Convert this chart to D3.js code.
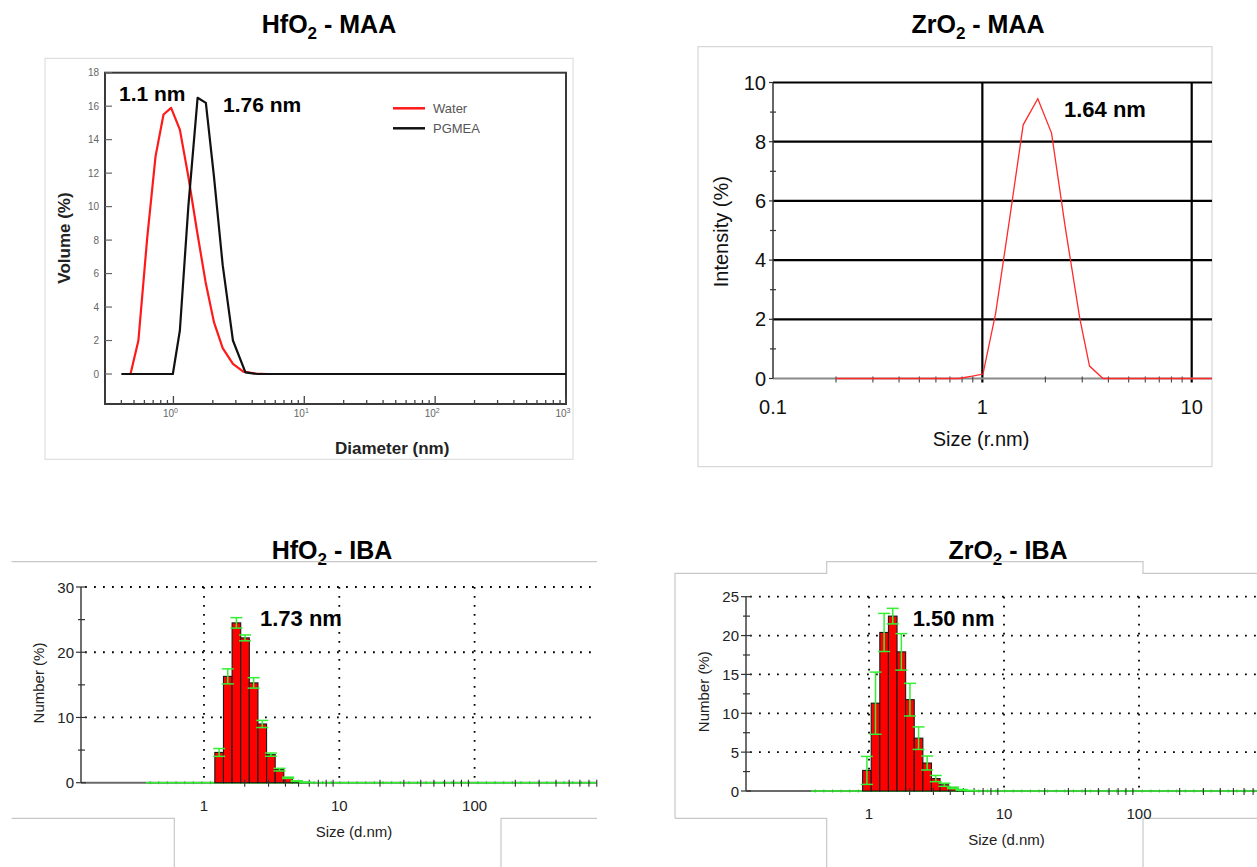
<!DOCTYPE html>
<html>
<head>
<meta charset="utf-8">
<script src="https://cdn.jsdelivr.net/npm/d3@7"></script>
<style>
  body { margin: 0; background: #fff; }
  svg { display: block; font-family: "Liberation Sans", Arial, Helvetica, sans-serif; }
</style>
</head>
<body>
<svg id="chart" width="1257" height="867"></svg>
<script>
// HfO2 - MAA : volume distribution (diameter, nm)
const maaWaterSize = [0.47, 0.54, 0.63, 0.73, 0.84, 0.96, 1.12, 1.30, 1.51, 1.76, 2.04, 2.38, 2.85, 3.42, 4.23, 5.23, 1000];
const maaWaterVol  = [0, 2.0, 8.1, 13.0, 15.5, 15.9, 14.6, 11.8, 8.6, 5.5, 3.1, 1.55, 0.6, 0.14, 0.03, 0, 0];
const maaPgmeaSize = [0.40, 0.99, 1.12, 1.30, 1.53, 1.77, 2.04, 2.38, 2.85, 3.55, 4.4, 1000];
const maaPgmeaVol  = [0, 0, 2.6, 10.0, 16.5, 16.2, 11.8, 6.5, 2.0, 0.1, 0, 0];

// ZrO2 - MAA : intensity distribution (radius, nm)
const zrMaaSize = [0.2, 0.77, 0.896, 1.007, 1.157, 1.35, 1.567, 1.84, 2.14, 2.49, 2.92, 3.25, 3.77, 12.5];
const zrMaaInt  = [0, 0, 0.08, 0.15, 2.2, 5.4, 8.57, 9.45, 8.29, 5.1, 2.03, 0.42, 0, 0];

// size classes of the number distributions (d.nm)
const sizeClasses = [0.4000, 0.4632, 0.5365, 0.6213, 0.7195, 0.8332, 0.9649, 1.117, 1.294, 1.499, 1.736, 2.010,
  2.328, 2.696, 3.122, 3.615, 4.187, 4.849, 5.615, 6.503, 7.531, 8.721, 10.10, 11.70, 13.54, 15.69, 18.17, 21.04,
  24.36, 28.21, 32.67, 37.84, 43.82, 50.75, 58.77, 68.06, 78.82, 91.28, 105.7, 122.4, 141.8, 164.2, 190.1, 220.2,
  255.0, 295.3, 342.0, 396.1, 458.7, 531.2, 615.1, 712.4, 825.0, 955.4];

// HfO2 - IBA : number distribution
const hfIbaSize = [1.294, 1.499, 1.736, 2.010, 2.328, 2.696, 3.122, 3.615, 4.187, 4.849, 5.615];
const hfIbaNum  = [4.64, 16.3, 24.5, 22.2, 15.3, 9.0, 4.3, 2.0, 0.75, 0.25, 0.05];
const hfIbaErr  = [0.6, 1.15, 0.8, 0.45, 0.8, 0.55, 0.25, 0.2, 0.1, 0.05, 0.02];

// ZrO2 - IBA : number distribution
const zrIbaSize = [0.9649, 1.117, 1.294, 1.499, 1.736, 2.010, 2.328, 2.696, 3.122, 3.615, 4.187, 4.849, 5.615];
const zrIbaNum  = [2.65, 11.3, 20.4, 22.5, 17.9, 11.75, 6.8, 3.6, 1.6, 0.8, 0.4, 0.15, 0.05];
const zrIbaErr  = [1.8, 4.0, 2.45, 1.0, 2.35, 2.1, 1.45, 0.9, 0.4, 0.2, 0.1, 0.05, 0.02];

const svg = d3.select('#chart');
const zip = (a, b) => a.map((v, i) => [v, b[i]]);
const isDecade = v => Math.abs(Math.log10(v) - Math.round(Math.log10(v))) < 1e-6;

function title(x, y, base, rest) {
  const t = svg.append('text').attr('x', x).attr('y', y).attr('text-anchor', 'middle')
    .attr('font-size', 25).attr('font-weight', 'bold').attr('fill', '#000');
  t.append('tspan').text(base);
  t.append('tspan').attr('font-size', 17).attr('dy', 6).text('2');
  t.append('tspan').attr('dy', -6).text(rest);
}

function label(x, y, text, opts = {}) {
  const t = svg.append('text').attr('x', x).attr('y', y).text(text)
    .attr('font-size', opts.size || 15).attr('fill', opts.fill || '#222')
    .attr('font-weight', opts.bold ? 'bold' : null)
    .attr('text-anchor', opts.anchor || 'start')
    .attr('dominant-baseline', opts.baseline || null);
  if (opts.rotate) t.attr('transform', `rotate(-90,${x},${y})`);
  return t;
}

title(329, 33, 'HfO', ' - MAA');
title(978, 33, 'ZrO', ' - MAA');
title(332, 559, 'HfO', ' - IBA');
title(1008, 559, 'ZrO', ' - IBA');

// ---------- panel 1 : HfO2 - MAA ----------
{
  const x = d3.scaleLog().domain([0.30, 1000]).range([105, 566]);
  const y = d3.scaleLinear().domain([0, 18]).range([374, 72.7]);
  const bottom = 404;
  const g = svg.append('g');
  g.append('rect').attr('x', 45).attr('y', 58.3).attr('width', 528).attr('height', 401)
    .attr('fill', 'none').attr('stroke', '#d9d9d9');
  g.append('rect').attr('x', 105).attr('y', y(18)).attr('width', 461).attr('height', bottom - y(18))
    .attr('fill', 'none').attr('stroke', '#3a3a3a').attr('stroke-width', 2);

  d3.range(0, 19, 2).forEach(v => {
    g.append('line').attr('x1', 105).attr('x2', 112).attr('y1', y(v)).attr('y2', y(v))
      .attr('stroke', '#666').attr('stroke-width', 1.2);
    label(99, y(v), v, { size: 10, fill: '#666', anchor: 'end', baseline: 'central' });
  });
  x.ticks().filter(v => v >= 0.39 && v <= 1000).forEach(v => {
    const len = isDecade(v) ? 8 : 4;
    g.append('line').attr('x1', x(v)).attr('x2', x(v)).attr('y1', bottom).attr('y2', bottom - len)
      .attr('stroke', '#444').attr('stroke-width', 1.3);
  });
  [1, 10, 100, 1000].forEach((v, i) => {
    const t = label(x(v) - 3, 417, '10', { size: 10, fill: '#666', anchor: 'middle' });
    t.append('tspan').attr('font-size', 7).attr('dy', -4).text(i);
  });
  label(335, 454, 'Diameter (nm)', { size: 17, bold: true });
  label(64, 238, 'Volume (%)', { size: 17, bold: true, anchor: 'middle', baseline: 'central', rotate: true });

  const line = d3.line().x(d => x(d[0])).y(d => y(d[1]));
  g.append('path').attr('d', line(zip(maaWaterSize, maaWaterVol)))
    .attr('fill', 'none').attr('stroke', '#ff1a1a').attr('stroke-width', 2.2).attr('stroke-linejoin', 'round');
  g.append('path').attr('d', line(zip(maaPgmeaSize, maaPgmeaVol)))
    .attr('fill', 'none').attr('stroke', '#111').attr('stroke-width', 2.2).attr('stroke-linejoin', 'round');

  g.append('line').attr('x1', 393).attr('x2', 425).attr('y1', 108.3).attr('y2', 108.3)
    .attr('stroke', '#ff1a1a').attr('stroke-width', 2.5);
  g.append('line').attr('x1', 393).attr('x2', 425).attr('y1', 128.3).attr('y2', 128.3)
    .attr('stroke', '#111').attr('stroke-width', 2.5);
  label(433, 108.3, 'Water', { size: 13, fill: '#555', baseline: 'central' });
  label(433, 128.3, 'PGMEA', { size: 13, fill: '#555', baseline: 'central' });

  label(119, 100.7, '1.1 nm', { size: 21, bold: true, fill: '#000' });
  label(223, 111.7, '1.76 nm', { size: 21, bold: true, fill: '#000' });
}

// ---------- panel 2 : ZrO2 - MAA ----------
{
  const x = d3.scaleLog().domain([0.1, 12.5]).range([773, 1212]);
  const y = d3.scaleLinear().domain([0, 10]).range([378.5, 82.5]);
  const g = svg.append('g');
  g.append('rect').attr('x', 698).attr('y', 46.7).attr('width', 514).attr('height', 420)
    .attr('fill', 'none').attr('stroke', '#cfcfcf');

  d3.range(2, 11, 2).forEach(v => {
    g.append('line').attr('x1', 773).attr('x2', 1212).attr('y1', y(v)).attr('y2', y(v))
      .attr('stroke', '#000').attr('stroke-width', 2.2);
  });
  [1, 10].forEach(v => {
    g.append('line').attr('x1', x(v)).attr('x2', x(v)).attr('y1', y(10)).attr('y2', y(0) + 4)
      .attr('stroke', '#000').attr('stroke-width', 2.2);
  });
  g.append('line').attr('x1', 773).attr('x2', 1212).attr('y1', y(0)).attr('y2', y(0))
    .attr('stroke', '#8a8a8a').attr('stroke-width', 2);
  g.append('line').attr('x1', 773).attr('x2', 773).attr('y1', y(10)).attr('y2', y(0))
    .attr('stroke', '#333').attr('stroke-width', 1.5);
  d3.range(0, 11, 1).forEach(v => {
    const major = v % 2 === 0;
    g.append('line').attr('x1', major ? 769 : 770).attr('x2', major ? 773 : 776).attr('y1', y(v)).attr('y2', y(v))
      .attr('stroke', '#333').attr('stroke-width', 1.2);
    if (major) label(766, y(v), v, { size: 20, fill: '#111', anchor: 'end', baseline: 'central' });
  });
  x.ticks().filter(v => !isDecade(v) && v <= 12.5).forEach(v => {
    g.append('line').attr('x1', x(v)).attr('x2', x(v)).attr('y1', y(0) - 2).attr('y2', y(0) + 4)
      .attr('stroke', '#444').attr('stroke-width', 1.1);
  });
  [[0.1, '0.1'], [1, '1'], [10, '10']].forEach(([v, s]) => {
    label(x(v), 413.5, s, { size: 20, fill: '#111', anchor: 'middle' });
  });
  label(981, 446, 'Size (r.nm)', { size: 20, fill: '#111', anchor: 'middle' });
  label(720.7, 231.7, 'Intensity (%)', { size: 20, fill: '#111', anchor: 'middle', baseline: 'central', rotate: true });

  const line = d3.line().x(d => x(d[0])).y(d => y(d[1]));
  g.append('path').attr('d', line(zip(zrMaaSize, zrMaaInt)))
    .attr('fill', 'none').attr('stroke', '#ff2a2a').attr('stroke-width', 1.3);
  label(1064, 116.7, '1.64 nm', { size: 22, bold: true, fill: '#000' });
}

// ---------- panels 3 and 4 : number distributions ----------
function numberPanel(cfg) {
  const { x, y, yMax, yStep, sizes, vals, errs } = cfg;
  const g = svg.append('g');
  g.append('path').attr('d', cfg.frame).attr('fill', 'none').attr('stroke', '#c8c8c8').attr('stroke-width', 1.2);

  const [x0, x1] = x.range();
  const y0 = y(0);
  const dots = { stroke: '#000', 'stroke-width': 1.8, 'stroke-dasharray': '1.8,7.2' };
  d3.range(yStep * 2, yMax + 0.1, yStep * 2).forEach(v => {
    const l = g.append('line').attr('x1', x0 + 4).attr('x2', x1).attr('y1', y(v)).attr('y2', y(v));
    Object.entries(dots).forEach(([k, val]) => l.attr(k, val));
  });
  [1, 10, 100].forEach(v => {
    const l = g.append('line').attr('x1', x(v)).attr('x2', x(v)).attr('y1', y(yMax)).attr('y2', y0 - 3);
    Object.entries(dots).forEach(([k, val]) => l.attr(k, val));
  });

  // bottom axis, then the green zero line from the first size class
  g.append('line').attr('x1', x0).attr('x2', x1).attr('y1', y0).attr('y2', y0)
    .attr('stroke', '#6a6a6a').attr('stroke-width', 2);
  const edge = i => Math.sqrt(sizeClasses[i] * (sizeClasses[i + 1] || sizeClasses[i] * 1.158));
  const startEdge = sizeClasses[0] / Math.sqrt(sizeClasses[1] / sizeClasses[0]);
  g.append('line').attr('x1', x(startEdge)).attr('x2', x1).attr('y1', y0).attr('y2', y0)
    .attr('stroke', '#33f033').attr('stroke-width', 1.6);
  sizeClasses.filter(s => x(s) < x1 && !sizes.includes(s)).forEach(s => {
    g.append('line').attr('x1', x(s)).attr('x2', x(s)).attr('y1', y0 - 1.5).attr('y2', y0 + 1.5)
      .attr('stroke', '#22cc22').attr('stroke-width', 1);
  });

  // bars
  const bars = sizes.map((s, i) => {
    const k = sizeClasses.indexOf(s);
    return { lo: k > 0 ? edge(k - 1) : startEdge, hi: edge(k), v: vals[i], e: errs[i], s };
  });
  g.selectAll('rect.bar').data(bars).join('rect').attr('class', 'bar')
    .attr('x', d => x(d.lo)).attr('width', d => x(d.hi) - x(d.lo))
    .attr('y', d => y(d.v)).attr('height', d => y0 - y(d.v))
    .attr('fill', '#ff0000').attr('stroke', '#1a1a1a').attr('stroke-width', 1.1);

  // minor ticks along the size axis
  x.ticks().filter(v => v >= 2 && v <= x.domain()[1] && !isDecade(v)).forEach(v => {
    g.append('line').attr('x1', x(v)).attr('x2', x(v)).attr('y1', y0 - 3).attr('y2', y0 + 4)
      .attr('stroke', '#333').attr('stroke-width', 1.1);
  });

  // error bars
  const eb = g.selectAll('g.err').data(bars).join('g').attr('class', 'err')
    .attr('stroke', '#33f033').attr('stroke-width', 1.5);
  eb.append('line').attr('x1', d => x(d.s)).attr('x2', d => x(d.s))
    .attr('y1', d => y(d.v + d.e)).attr('y2', d => y(Math.max(0, d.v - d.e)));
  eb.append('line').attr('x1', d => x(d.s) - 6).attr('x2', d => x(d.s) + 6)
    .attr('y1', d => y(d.v + d.e)).attr('y2', d => y(d.v + d.e));
  eb.append('line').attr('x1', d => x(d.s) - 6).attr('x2', d => x(d.s) + 6)
    .attr('y1', d => y(Math.max(0, d.v - d.e))).attr('y2', d => y(Math.max(0, d.v - d.e)));

  // y axis
  g.append('line').attr('x1', x0).attr('x2', x0).attr('y1', y(yMax)).attr('y2', y0)
    .attr('stroke', '#4a4a4a').attr('stroke-width', 1.6);
  d3.range(0, yMax + 0.1, yStep).forEach((v, i) => {
    const major = i % 2 === 0;
    g.append('line').attr('x1', x0 - (major ? 5 : 3)).attr('x2', x0 + (major ? 5 : 4)).attr('y1', y(v)).attr('y2', y(v))
      .attr('stroke', '#333').attr('stroke-width', 1.2);
    if (major) label(x0 - 7, y(v), v, { size: 15, fill: '#222', anchor: 'end', baseline: 'central' });
  });
  [[1, '1'], [10, '10'], [100, '100']].forEach(([v, s]) => {
    label(x(v), y0 + 28, s, { size: 15, fill: '#222', anchor: 'middle' });
  });
  label(cfg.xLabel[0], cfg.xLabel[1], 'Size (d.nm)', { size: 15, fill: '#222', anchor: 'middle' });
  label(cfg.yLabel[0], cfg.yLabel[1], 'Number (%)', { size: 15, fill: '#222', anchor: 'middle', baseline: 'central', rotate: true });
  label(cfg.note[0], cfg.note[1], cfg.note[2], { size: 22, bold: true, fill: '#000' });
}

numberPanel({
  x: d3.scaleLog().domain([0.1233, 803]).range([81, 597]),
  y: d3.scaleLinear().domain([0, 30]).range([782.7, 587]),
  yMax: 30, yStep: 5,
  sizes: hfIbaSize, vals: hfIbaNum, errs: hfIbaErr,
  frame: 'M11.5,561.7H597M11.5,818.3H174.3V867M501,867V818.3H597',
  xLabel: [354, 837], yLabel: [38, 683], note: [260, 626, '1.73 nm']
});

numberPanel({
  x: d3.scaleLog().domain([0.1227, 748]).range([746, 1257]),
  y: d3.scaleLinear().domain([0, 25]).range([791, 596.7]),
  yMax: 25, yStep: 2.5,
  sizes: zrIbaSize, vals: zrIbaNum, errs: zrIbaErr,
  frame: 'M675,818.3V573.3H826.7V561.7H1143V573.3H1257M675,818.3H826.7V867M1143,867V818.3H1257',
  xLabel: [1006.5, 845], yLabel: [703.8, 691.7], note: [912.7, 626, '1.50 nm']
});
</script>
</body>
</html>
